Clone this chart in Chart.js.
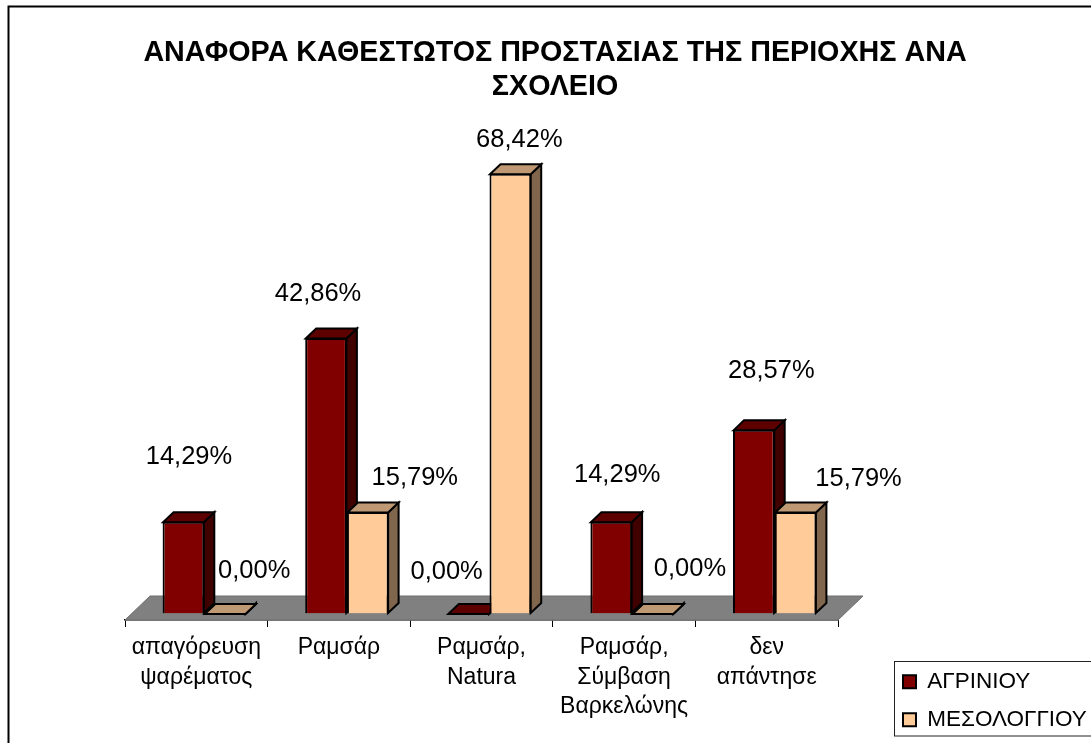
<!DOCTYPE html>
<html lang="el">
<head>
<meta charset="utf-8">
<title>Αναφορά καθεστώτος προστασίας</title>
<style>html,body{margin:0;padding:0;background:#fff;overflow:hidden}canvas{display:block}</style>
<script src="https://cdn.jsdelivr.net/npm/chart.js@4/dist/chart.umd.min.js"></script>
</head>
<body>
<canvas id="c" width="1091" height="743"></canvas>
<script>
const categories = [
  ['απαγόρευση', 'ψαρέματος'],
  ['Ραμσάρ'],
  ['Ραμσάρ,', 'Natura'],
  ['Ραμσάρ,', 'Σύμβαση', 'Βαρκελώνης'],
  ['δεν', 'απάντησε']
];
const seriesNames = ['ΑΓΡΙΝΙΟΥ', 'ΜΕΣΟΛΟΓΓΙΟΥ'];
const agrinio = [14.29, 42.86, 0, 14.29, 28.57];
const mesolongi = [0, 15.79, 68.42, 0, 15.79];
const titleLines = ['ΑΝΑΦΟΡΑ ΚΑΘΕΣΤΩΤΟΣ ΠΡΟΣΤΑΣΙΑΣ ΤΗΣ ΠΕΡΙΟΧΗΣ ΑΝΑ', 'ΣΧΟΛΕΙΟ'];

// Excel placed these labels by hand: [dx, dy] from the top centre of each front face
const labelNudgeA = [[5.5,-65],[-8,-44],[-22,-42],[6,-47],[17.5,-59]];
const labelNudgeB = [[29,-43],[47,-34],[9,-34],[37,-45],[63,-33]];

const FONT = '"Liberation Sans", Arial, sans-serif';
const DEPTH = {x: 10.5, y: 10};   // bar depth
const FLOOR = {x: 25, y: 24};     // floor depth
const SHIFT = {x: 8, y: -6.5};    // bars stand in the middle of the floor
const faces = [
  {top: '#5c0000', side: '#400000'},
  {top: '#bf9973', side: '#80664d'}
];

function poly(ctx, pts, fill, stroke, lw) {
  ctx.beginPath();
  pts.forEach((p, i) => i ? ctx.lineTo(p[0], p[1]) : ctx.moveTo(p[0], p[1]));
  ctx.closePath();
  ctx.fillStyle = fill;
  ctx.fill();
  ctx.strokeStyle = stroke;
  ctx.lineWidth = lw;
  ctx.stroke();
}

const chrome = {
  id: 'chrome',
  afterLayout(chart) {
    const t = chart.titleBlock;
    t.left = 55; t.right = 1055;
    const l = chart.legend;
    l.left = 887.5; l.top = 655; l.right = l.left + l.width; l.bottom = l.top + 300;
    l.adjustHitBoxes();
  },
  beforeDraw(chart) {
    const ctx = chart.ctx;
    ctx.save();
    ctx.fillStyle = '#fff';
    ctx.fillRect(0, 0, chart.width, chart.height);
    ctx.strokeStyle = '#000';
    ctx.lineWidth = 2;
    ctx.beginPath();
    ctx.moveTo(8.5, 745); ctx.lineTo(8.5, 6.5); ctx.lineTo(1095, 6.5);
    ctx.stroke();
    ctx.lineWidth = 1;
    ctx.strokeStyle = '#222';
    ctx.strokeRect(894.5, 661.5, 210, 74.5);
    ctx.restore();
  },
  beforeDatasetsDraw(chart) {
    const ctx = chart.ctx, a = chart.chartArea;
    ctx.save();
    const b = chart.scales.y.getPixelForValue(0);
    poly(ctx, [[a.left, b], [a.left + FLOOR.x, b - FLOOR.y], [a.right + FLOOR.x, b - FLOOR.y], [a.right, b]], '#808080', '#6e6e6e', 1);
    ctx.translate(SHIFT.x, SHIFT.y);
    chart.data.datasets.forEach((ds, i) => {
      chart.getDatasetMeta(i).data.forEach(bar => {
        const hw = bar.width / 2, l = bar.x - hw + 0.5, r = bar.x + hw - 0.5, t = bar.y + 0.5, bt = bar.base - 0.5;
        const dx = DEPTH.x, dy = DEPTH.y;
        poly(ctx, [[r, t], [r + dx, t - dy], [r + dx, bt - dy], [r, bt]], faces[i].side, '#000', 2);
        poly(ctx, [[l, t], [l + dx, t - dy], [r + dx, t - dy], [r, t]], faces[i].top, '#000', 2);
      });
    });
  },
  afterDatasetsDraw(chart) {
    const ctx = chart.ctx;
    ctx.restore();
    ctx.save();
    ctx.font = '25.5px ' + FONT;
    ctx.fillStyle = '#000';
    ctx.textAlign = 'center';
    ctx.textBaseline = 'middle';
    [labelNudgeA, labelNudgeB].forEach((nudge, i) => {
      chart.getDatasetMeta(i).data.forEach((bar, j) => {
        const v = chart.data.datasets[i].data[j];
        ctx.fillText(v.toFixed(2).replace('.', ',') + '%',
          bar.x + SHIFT.x + nudge[j][0], bar.y + SHIFT.y + nudge[j][1]);
      });
    });
    ctx.restore();
  }
};

new Chart(document.getElementById('c'), {
  type: 'bar',
  plugins: [chrome],
  data: {
    labels: categories,
    datasets: [
      {label: seriesNames[0], data: agrinio, backgroundColor: '#800000', borderColor: '#000', borderWidth: 2},
      {label: seriesNames[1], data: mesolongi, backgroundColor: '#ffcc99', borderColor: '#000', borderWidth: 2}
    ]
  },
  options: {
    responsive: false,
    animation: false,
    events: [],
    layout: {padding: {left: 125, right: 253, top: 36, bottom: 0}},
    datasets: {bar: {categoryPercentage: 0.585, barPercentage: 1}},
    scales: {
      x: {
        grid: {drawOnChartArea: false, drawTicks: true, tickLength: 7, tickColor: '#000', tickWidth: 1},
        border: {color: '#000', width: 1.5},
        ticks: {
          color: '#000', padding: 6, maxRotation: 0, autoSkip: false,
          font: {family: FONT, size: 23, lineHeight: 1.28}
        },
        afterFit(s) { s.height = 123; }
      },
      y: {display: false, min: 0, max: 79.5}
    },
    plugins: {
      tooltip: {enabled: false},
      title: {
        display: true, text: titleLines, color: '#000', padding: {top: 0, bottom: 5},
        font: {family: FONT, size: 28.7, weight: 'bold', lineHeight: 1.185}
      },
      legend: {
        position: 'chartArea', align: 'start',
        labels: {color: '#000', boxWidth: 13, boxHeight: 13, padding: 15.5, font: {family: FONT, size: 22.5}}
      }
    }
  }
});
</script>
</body>
</html>
